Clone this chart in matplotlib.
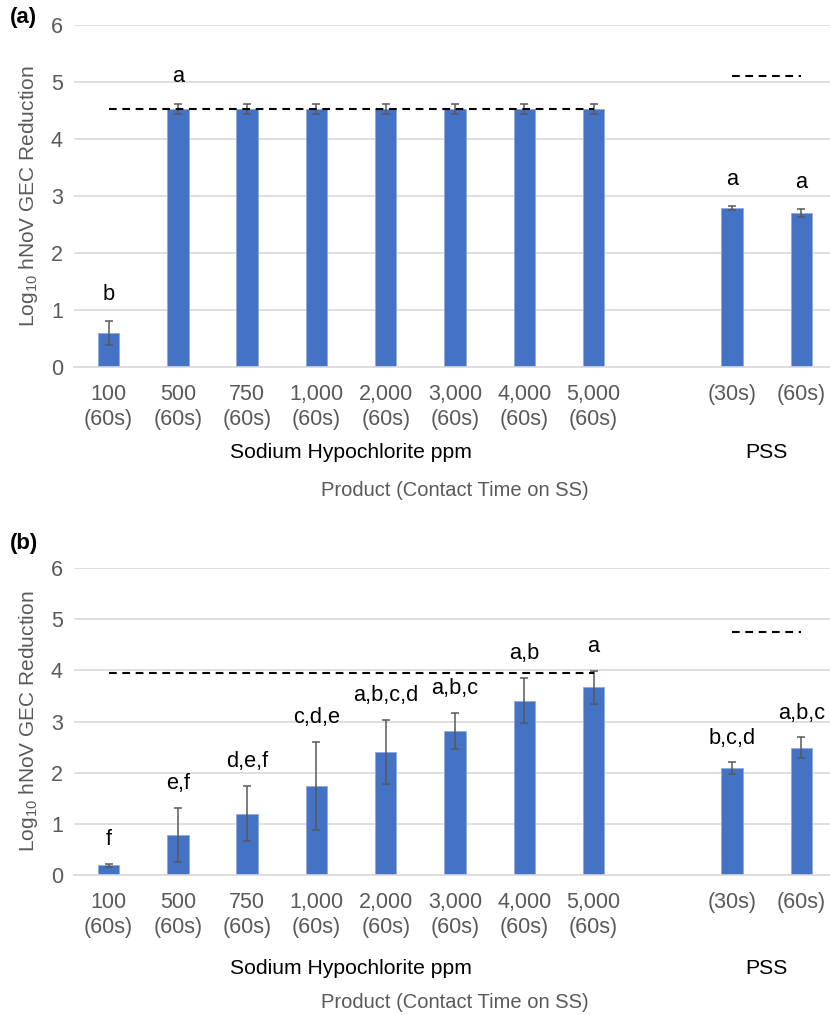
import numpy as np
import matplotlib
matplotlib.use('Agg')
import matplotlib.pyplot as plt

plt.rcParams['font.family'] = ['Liberation Sans', 'DejaVu Sans']
plt.rcParams['mathtext.fontset'] = 'custom'
plt.rcParams['mathtext.rm'] = 'Liberation Sans'
plt.rcParams['mathtext.it'] = 'Liberation Sans:italic'

# categories (slot 8 is an empty gap between the two product groups)
naocl_labels = ['100\n(60s)', '500\n(60s)', '750\n(60s)', '1,000\n(60s)', '2,000\n(60s)',
                '3,000\n(60s)', '4,000\n(60s)', '5,000\n(60s)']
pss_labels = ['(30s)', '(60s)']
positions = [0, 1, 2, 3, 4, 5, 6, 7, 9, 10]

# panel (a)
a_mean = [0.59, 4.53, 4.53, 4.53, 4.53, 4.53, 4.53, 4.53, 2.79, 2.70]
a_err = [0.21, 0.09, 0.09, 0.09, 0.09, 0.09, 0.09, 0.09, 0.035, 0.07]
a_letters = ['b', 'a', '', '', '', '', '', '', 'a', 'a']
a_lod_naocl = 4.53
a_lod_pss = 5.10

# panel (b)
b_mean = [0.19, 0.78, 1.20, 1.74, 2.40, 2.82, 3.41, 3.67, 2.09, 2.49]
b_err = [0.03, 0.53, 0.54, 0.86, 0.63, 0.35, 0.44, 0.32, 0.11, 0.20]
b_letters = ['f', 'e,f', 'd,e,f', 'c,d,e', 'a,b,c,d', 'a,b,c', 'a,b', 'a', 'b,c,d', 'a,b,c']
b_lod_naocl = 3.95
b_lod_pss = 4.75

W, H = 830, 1015
fig = plt.figure(figsize=(W / 100, H / 100), dpi=100)

BLUE = '#4472C4'
GRAY = '#595959'
GRID = '#d9d9d9'


def px_axes(left, top, right, bottom):
    return [left / W, 1 - bottom / H, (right - left) / W, (bottom - top) / H]


def panel(rect, mean, err, letters, lod1, lod2, tag, tag_y, grp_off, title_off):
    ax = fig.add_axes(rect)
    ax.bar(positions, mean, width=0.31, color=BLUE, edgecolor='#8faadc', linewidth=0.6, zorder=2)
    ax.errorbar(positions, mean, yerr=err, fmt='none', ecolor=GRAY, elinewidth=1.1,
                capsize=3, capthick=1.1, zorder=3)
    ax.plot([positions[0], positions[7]], [lod1, lod1], color='black', lw=1.5,
            dashes=(3.7, 2.7), zorder=4)
    ax.plot([positions[8], positions[9]], [lod2, lod2], color='black', lw=1.5,
            dashes=(3.7, 2.7), zorder=4)
    for x, m, e, t in zip(positions, mean, err, letters):
        if t:
            ax.text(x, m + e + 0.47, t, ha='center', va='center', fontsize=15.7, color='black')
    ax.set_xlim(-0.5, 10.5)
    ax.set_ylim(0, 6)
    ax.set_yticks(range(0, 7))
    ax.yaxis.grid(True, color=GRID, lw=1.2, zorder=0)
    ax.set_axisbelow(True)
    for s in ['top', 'right', 'left']:
        ax.spines[s].set_visible(False)
    ax.spines['bottom'].set_color(GRID)
    ax.spines['bottom'].set_linewidth(1.2)
    ax.set_xticks(positions)
    ax.set_xticklabels(naocl_labels + pss_labels, linespacing=1.2)
    ax.tick_params(axis='both', length=0, labelsize=15.5, labelcolor=GRAY)
    ax.tick_params(axis='x', pad=12.5)
    ax.tick_params(axis='y', pad=8)
    ax.set_ylabel(r'Log$_{10}$ hNoV GEC Reduction', fontsize=15, color=GRAY, labelpad=8)
    ax.annotate('Sodium Hypochlorite ppm', xy=(3.5, 0), xycoords=('data', 'axes fraction'),
                xytext=(0, -grp_off), textcoords='offset pixels', ha='center', va='center',
                fontsize=15.2, color='black')
    ax.annotate('PSS', xy=(9.5, 0), xycoords=('data', 'axes fraction'),
                xytext=(0, -grp_off), textcoords='offset pixels', ha='center', va='center',
                fontsize=15.2, color='black')
    ax.annotate('Product (Contact Time on SS)', xy=(5.0, 0), xycoords=('data', 'axes fraction'),
                xytext=(0, -title_off), textcoords='offset pixels', ha='center', va='center',
                fontsize=14.5, color=GRAY)
    fig.text(10 / W, 1 - tag_y / H, tag, fontsize=16, fontweight='bold', ha='left', va='center')
    return ax


panel(px_axes(74, 25, 836, 367), a_mean, a_err, a_letters, a_lod_naocl, a_lod_pss,
      '(a)', 18, 86, 124)
panel(px_axes(74, 568, 836, 875), b_mean, b_err, b_letters, b_lod_naocl, b_lod_pss,
      '(b)', 543, 93, 128)

fig.savefig('out.png', dpi=100)
